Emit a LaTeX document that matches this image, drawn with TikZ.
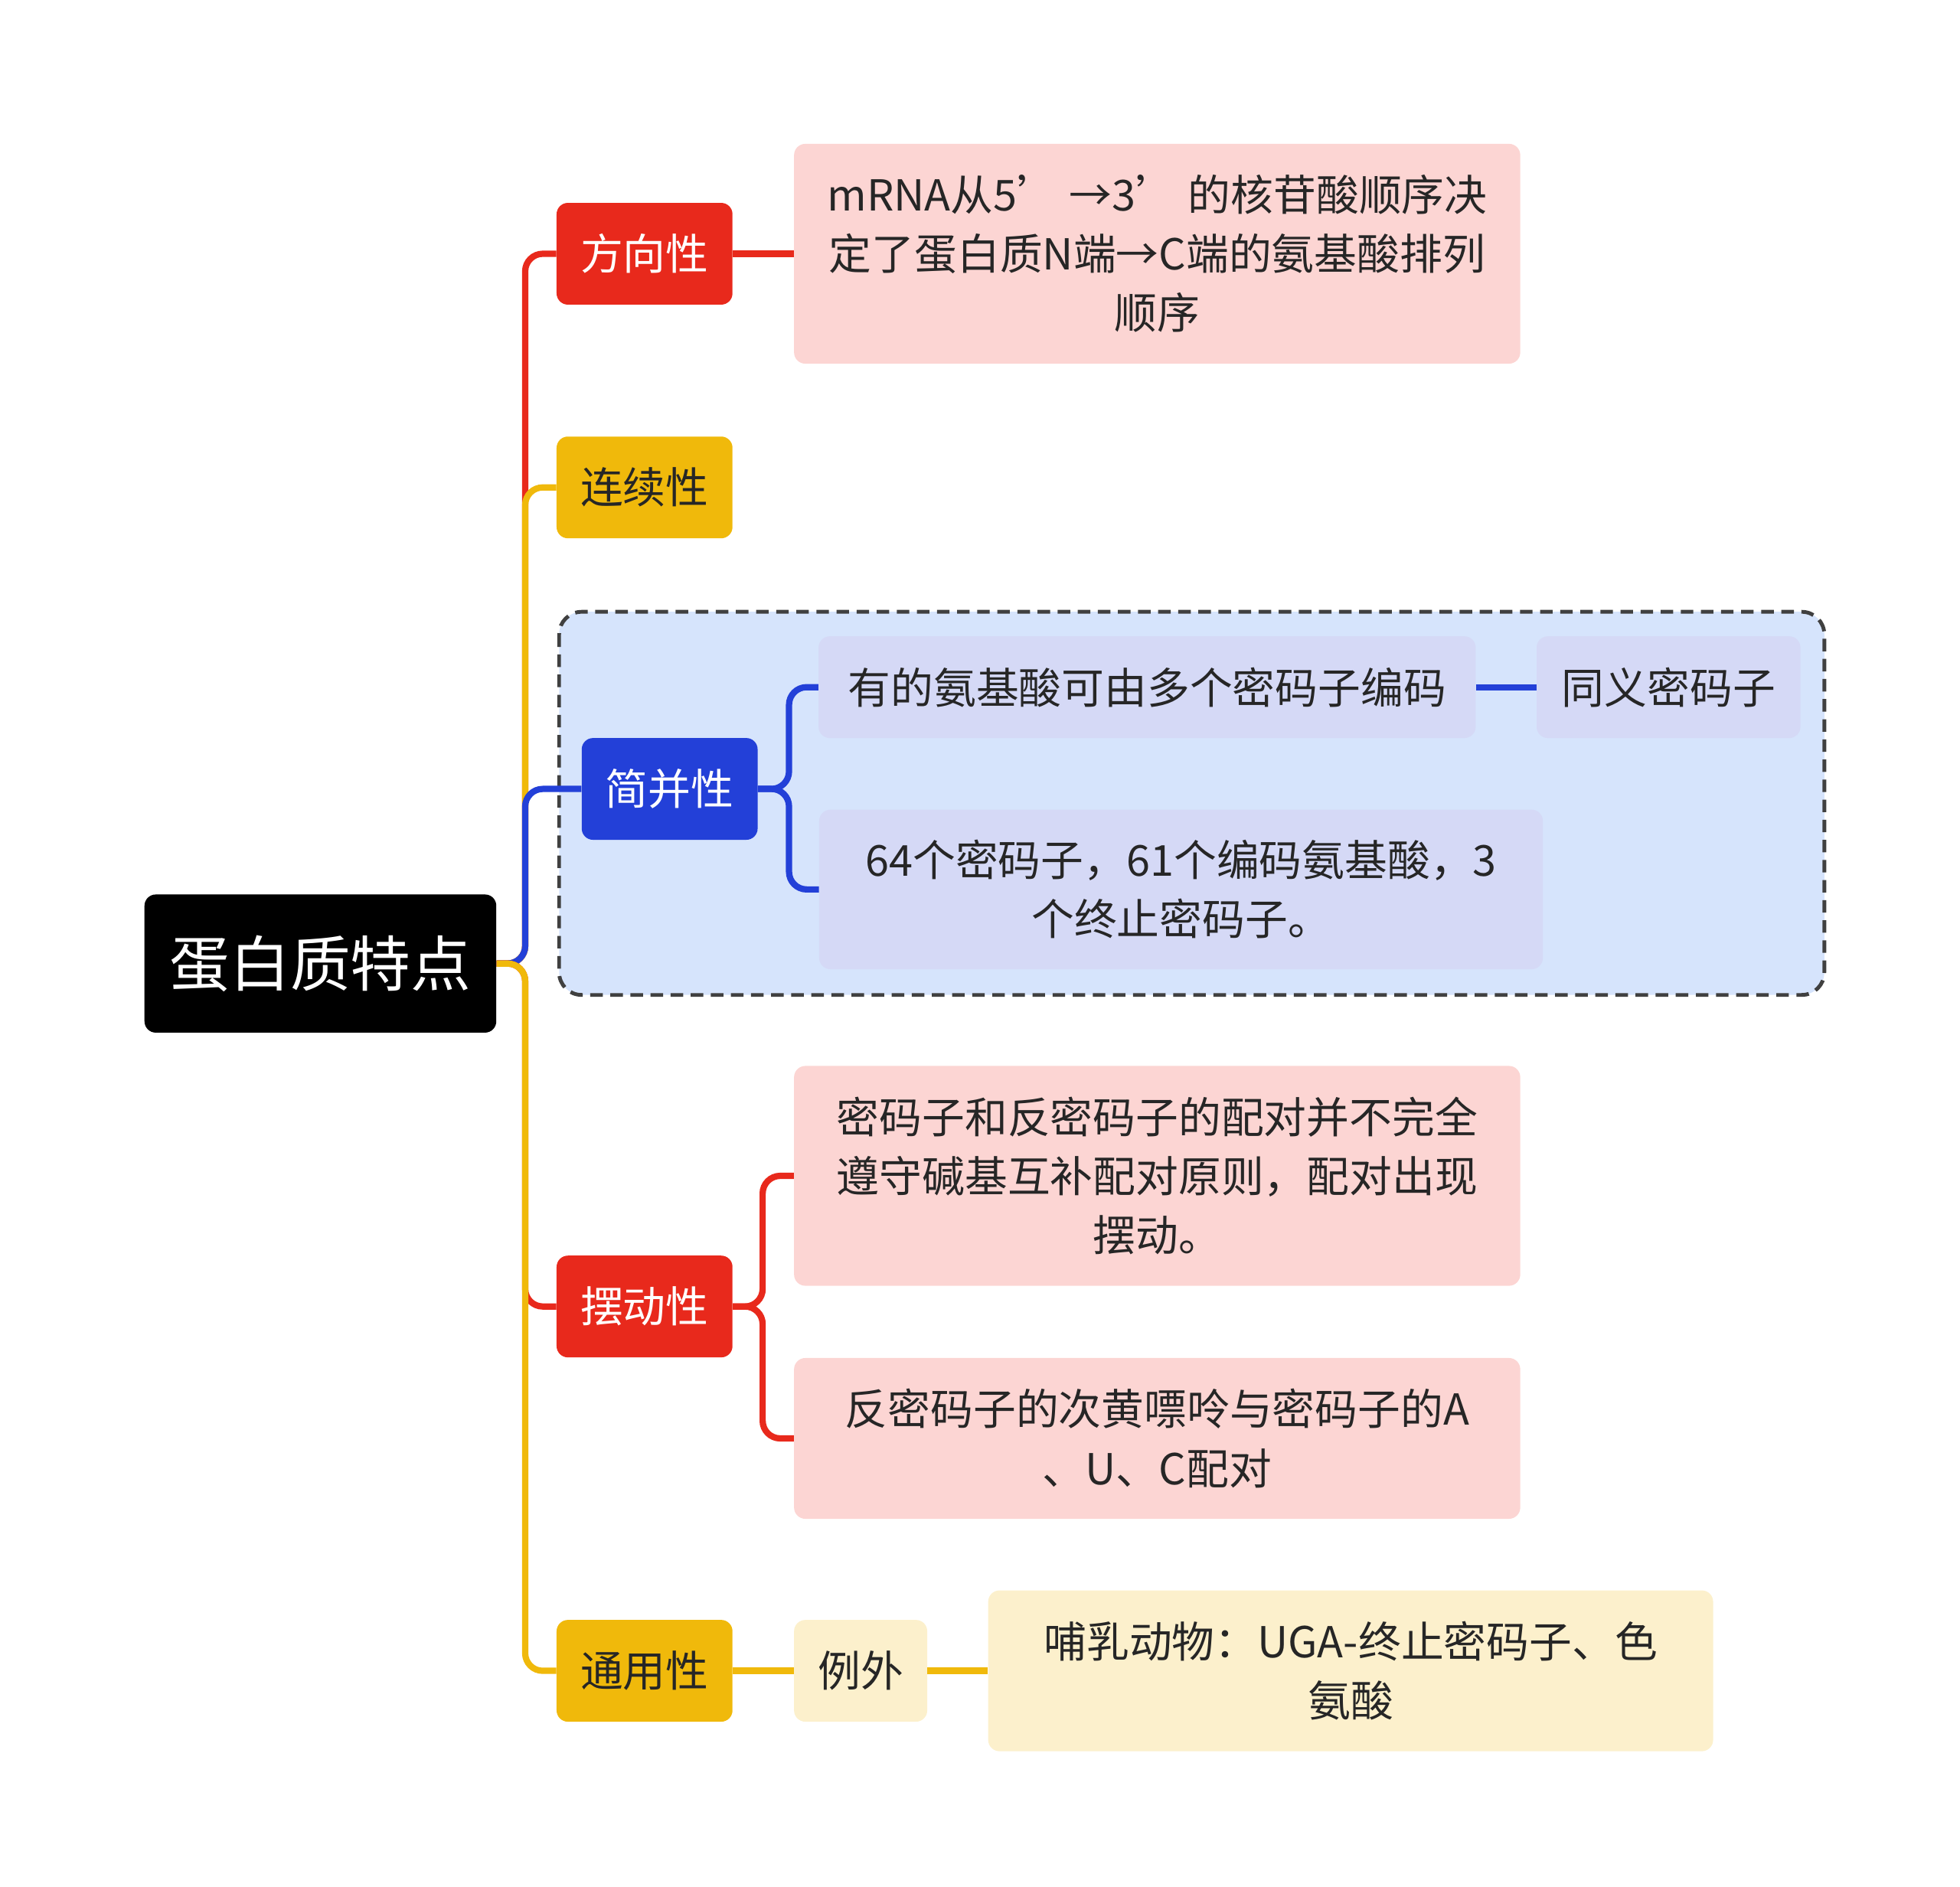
\documentclass[tikz,border=0pt]{standalone}
\usepackage{fontspec}
\setmainfont{Noto Sans CJK SC}
\usetikzlibrary{positioning}
\definecolor{redc}{HTML}{E8291C}
\definecolor{yelc}{HTML}{F0B90B}
\definecolor{bluc}{HTML}{2340D8}
\definecolor{pinkf}{HTML}{FCD5D3}
\definecolor{creamf}{HTML}{FCF0CC}
\definecolor{lavf}{HTML}{D5D9F6}
\definecolor{skyf}{HTML}{D6E4FC}
\tikzset{
  box/.style={rounded corners=9pt, inner sep=0pt, align=center, font=\fontsize{34}{47}\selectfont},
  topic/.style={box, minimum width=140pt, minimum height=81pt},
  leaf/.style={box, text=black!85},
  link/.style={line width=5pt, rounded corners=14pt}
}
\begin{document}
\begin{tikzpicture}[x=1pt,y=-1pt]
\useasboundingbox (0,0) rectangle (1560,1502);

% group frame
\draw[line width=3pt, black!75, fill=skyf, rounded corners=18pt, dash pattern=on 10pt off 6pt] (445,487) rectangle (1452,792);

% root and topics
\node[box, fill=black, text=white, minimum width=280pt, minimum height=110pt, font=\fontsize{48}{56}\selectfont] (root) at (255,767) {蛋白质特点};
\node[topic, fill=redc, text=white] (dir) at (513,202) {方向性};
\node[topic, fill=yelc, text=black!85] (cont) at (513,388) {连续性};
\node[topic, fill=bluc, text=white] (deg) at (533,628) {简并性};
\node[topic, fill=redc, text=white] (wob) at (513,1040) {摆动性};
\node[topic, fill=yelc, text=black!85] (uni) at (513,1330) {通用性};

% leaves
\node[leaf, fill=pinkf, minimum width=578pt, minimum height=175pt] (dirtxt) at (921,202) {mRNA从5’ →3’ 的核苷酸顺序决\\定了蛋白质N端→C端的氨基酸排列\\顺序};
\node[leaf, fill=lavf, minimum width=523pt, minimum height=81pt] (degA) at (913,547) {有的氨基酸可由多个密码子编码};
\node[leaf, fill=lavf, minimum width=210pt, minimum height=81pt] (syn) at (1328,547) {同义密码子};
\node[leaf, fill=lavf, minimum width=576pt, minimum height=127pt] (degB) at (940,708) {64个密码子，61个编码氨基酸，3\\个终止密码子。};
\node[leaf, fill=pinkf, minimum width=578pt, minimum height=175pt] (wobA) at (921,936) {密码子和反密码子的配对并不完全\\遵守碱基互补配对原则，配对出现\\摆动。};
\node[leaf, fill=pinkf, minimum width=578pt, minimum height=128pt] (wobB) at (921,1145) {反密码子的次黄嘌呤与密码子的A\\、U、C配对};
\node[leaf, fill=creamf, minimum width=106pt, minimum height=81pt] (exc) at (685,1330) {例外};
\node[leaf, fill=creamf, minimum width=577pt, minimum height=128pt] (mam) at (1075,1330) {哺乳动物：UGA-终止密码子、色\\氨酸};

% connectors
\draw[link, redc] (root.east) -- (418,767) |- (dir.west);
\draw[link, yelc] (root.east) -- (418,767) |- (cont.west);
\draw[link, bluc] (root.east) -- (418,767) |- (deg.west);
\draw[link, redc] (root.east) -- (418,767) |- (wob.west);
\draw[link, yelc] (root.east) -- (418,767) |- (uni.west);
\draw[link, redc] (dir.east) -- (dirtxt.west);
\draw[link, bluc] (deg.east) -- (628,628) |- (degA.west);
\draw[link, bluc] (deg.east) -- (628,628) |- (degB.west);
\draw[link, bluc] (degA.east) -- (syn.west);
\draw[link, redc] (wob.east) -- (607,1040) |- (wobA.west);
\draw[link, redc] (wob.east) -- (607,1040) |- (wobB.west);
\draw[link, yelc] (uni.east) -- (exc.west);
\draw[link, yelc] (exc.east) -- (mam.west);
\end{tikzpicture}
\end{document}
